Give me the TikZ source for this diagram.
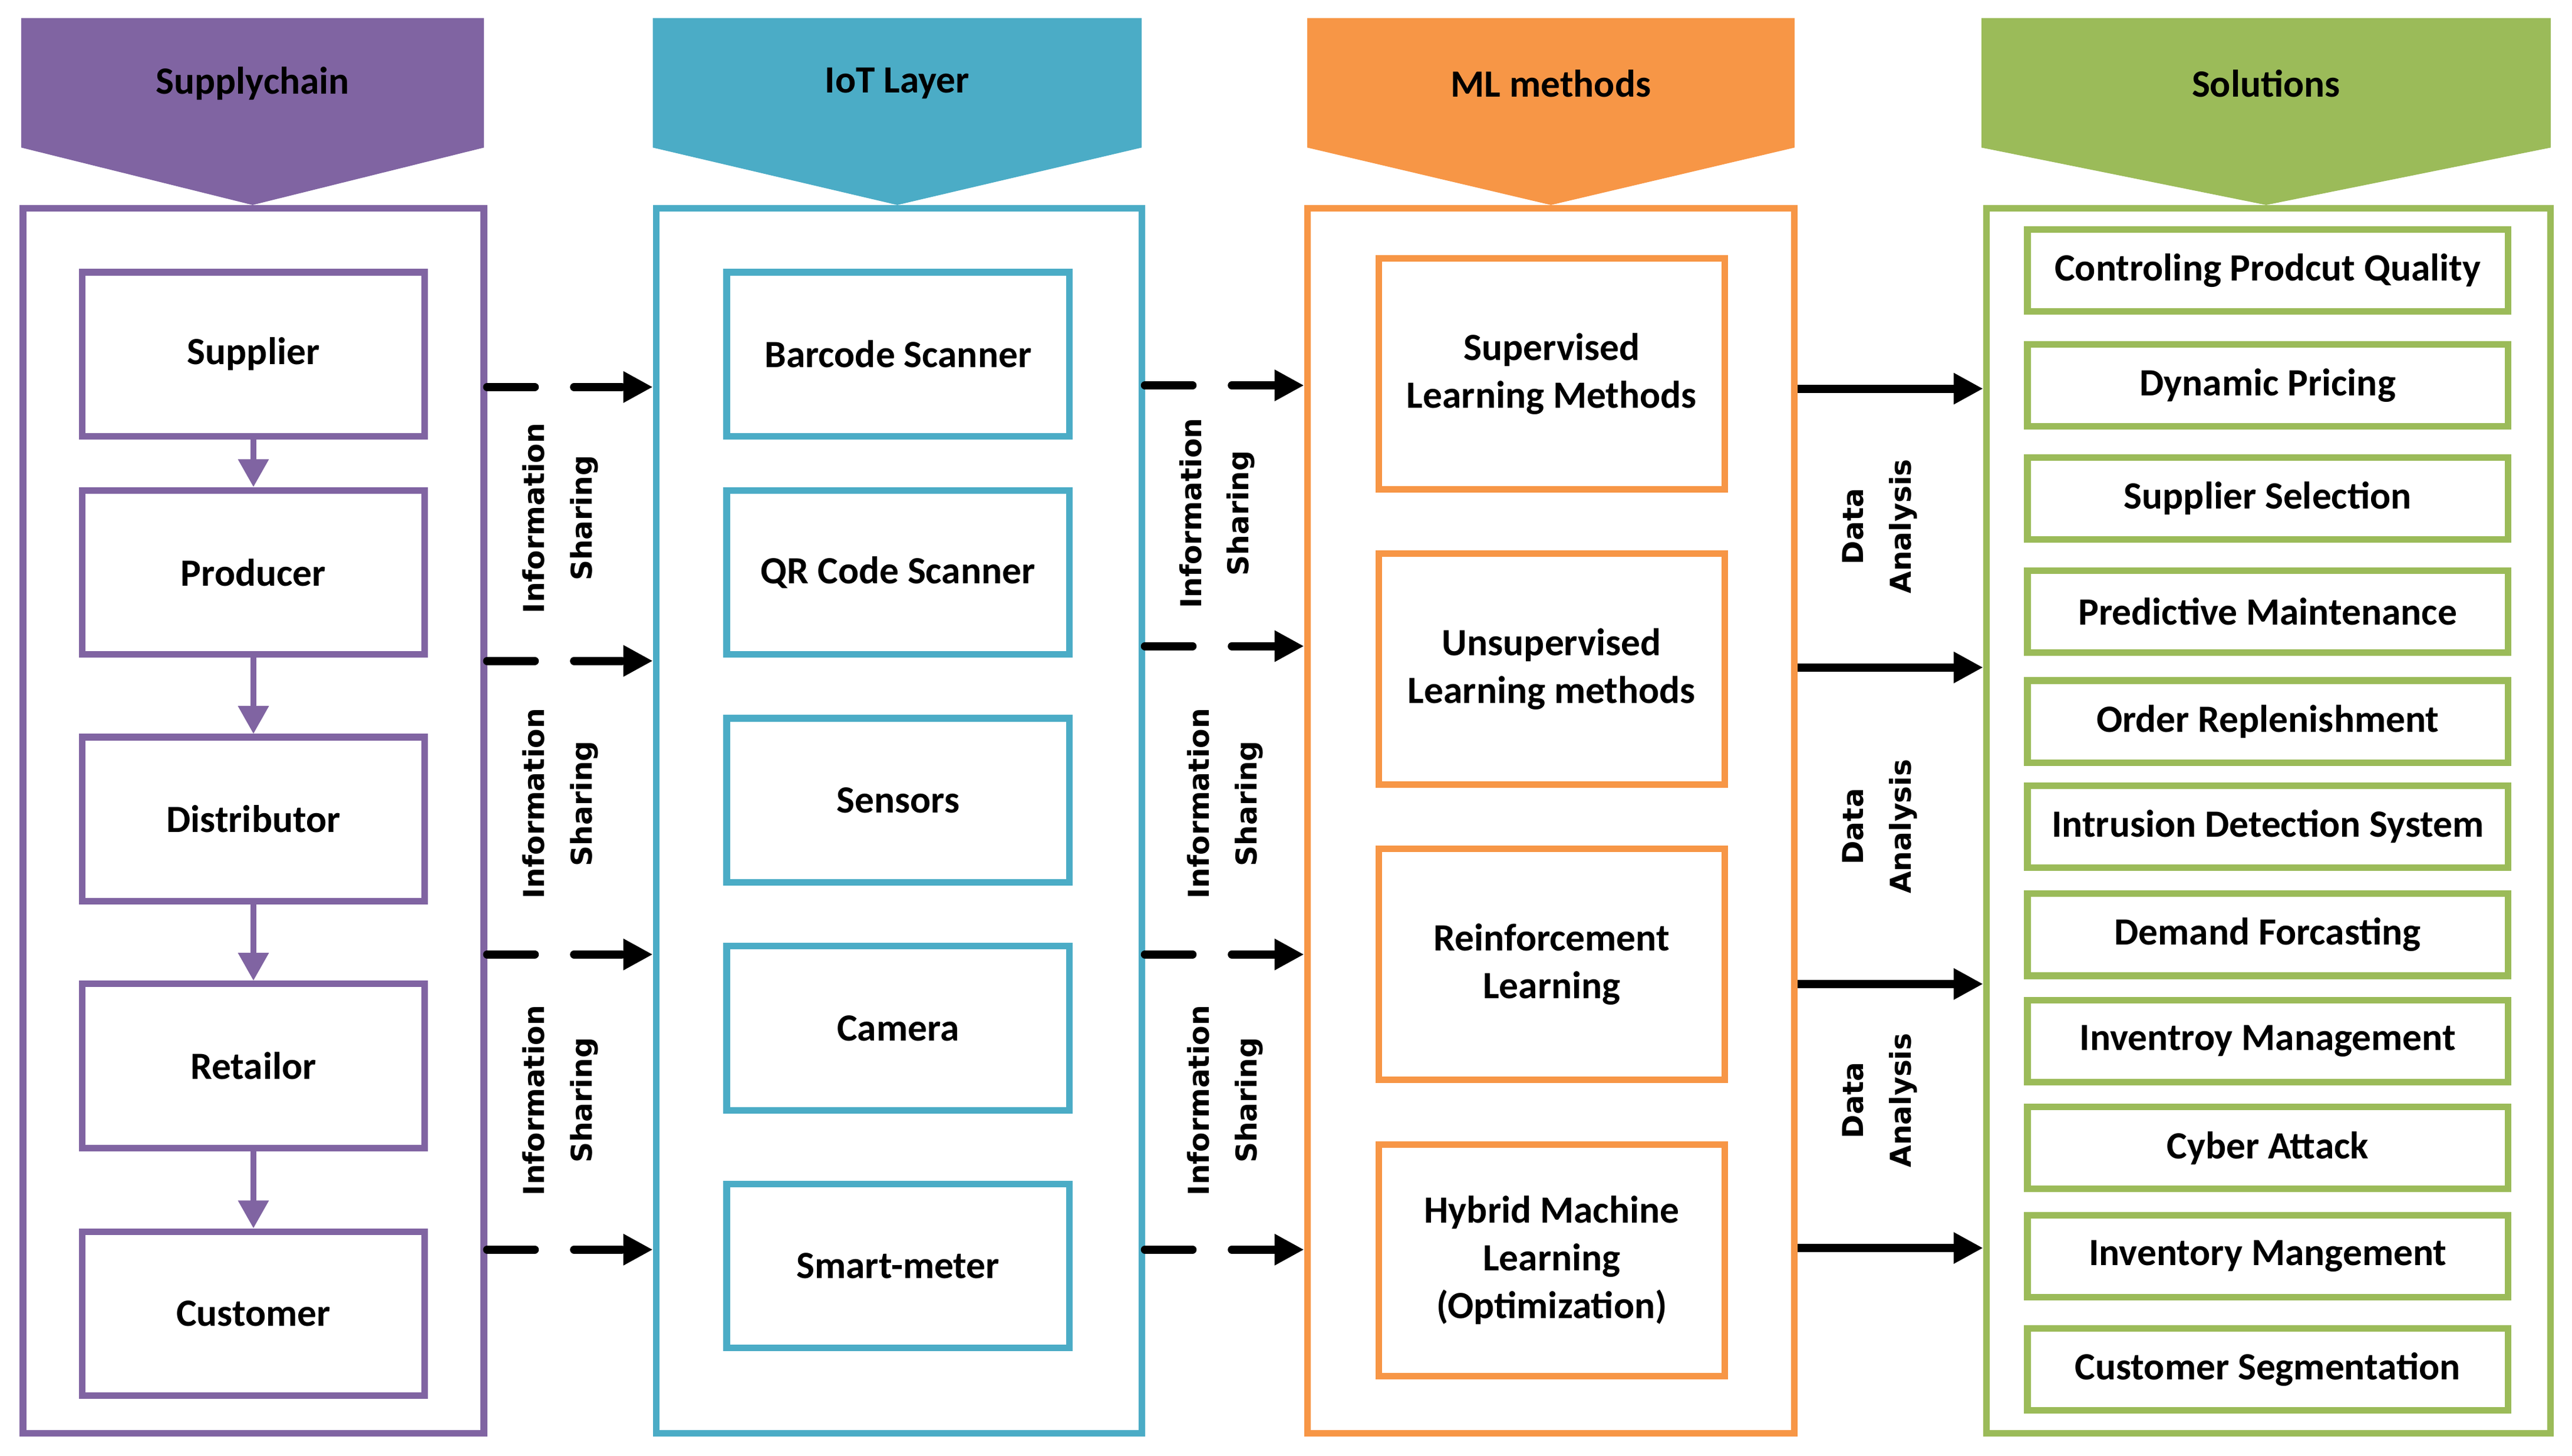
\documentclass[tikz,border=0pt]{standalone}
\usepackage{fontspec}
\setmainfont{Carlito}
\newfontfamily\sidefont{DejaVu Sans}
\usetikzlibrary{arrows.meta}
\definecolor{scpurple}{HTML}{8064A2}
\definecolor{iotblue}{HTML}{4BACC6}
\definecolor{mlorange}{HTML}{F79646}
\definecolor{solgreen}{HTML}{9BBB59}
\tikzset{column/.style={draw,line width=4pt,minimum height=747pt},
         item/.style={draw,line width=4pt,inner sep=0pt,align=center,font=\fontsize{23.5}{29}\selectfont\bfseries},
         scitem/.style={item,draw=scpurple,minimum width=209pt,minimum height=100pt},
         iotitem/.style={item,draw=iotblue,minimum width=209pt,minimum height=100pt},
         mlitem/.style={item,draw=mlorange,minimum width=211pt,minimum height=141pt},
         solitem/.style={item,draw=solgreen,minimum width=293pt,minimum height=50pt},
         head/.style={font=\fontsize{23.5}{29}\selectfont\bfseries},
         side/.style={rotate=90,align=center,font=\sidefont\fontsize{17.5}{29}\selectfont\bfseries},
         share/.style={line width=5pt,line cap=round,dash pattern=on 29pt off 24pt,-{Triangle[length=18pt,width=18pt]}},
         analyse/.style={line width=5pt,-{Triangle[length=18pt,width=18pt]}},
         flow/.style={scpurple,line width=3.5pt,-{Triangle[length=17pt,width=18pt]}}}
\begin{document}
\begin{tikzpicture}[x=1pt,y=-1pt]
        \useasboundingbox(0,0)rectangle(1568,887.5);

        \fill[scpurple](13,11)--(295,11)--(295,90)--(154,125)--(13,90)--cycle;
        \fill[iotblue](398,11)--(696,11)--(696,90)--(547,125)--(398,90)--cycle;
        \fill[mlorange](797,11)--(1094,11)--(1094,90)--(945.5,125)--(797,90)--cycle;
        \fill[solgreen](1208,11)--(1555,11)--(1555,90)--(1381.5,125)--(1208,90)--cycle;
        \node[head](hsc)at(154,51){Supplychain};
        \node[head](hiot)at(547,51){IoT Layer};
        \node[head](hml)at(945.5,51){ML methods};
        \node[head](hsol)at(1381.5,51){Solutions};

        \node[column, draw=scpurple, minimum width=281pt](sc)at(154.5,500.5){};
        \node[column, draw=iotblue, minimum width=296pt](iot)at(548,500.5){};
        \node[column, draw=mlorange, minimum width=297pt](ml)at(945.5,500.5){};
        \node[column, draw=solgreen, minimum width=344pt](sol)at(1383,500.5){};

        \node[scitem](sup)at(154.5,216){Supplier};
        \node[scitem](pro)at(154.5,349){Producer};
        \node[scitem](dis)at(154.5,499.5){Distributor};
        \node[scitem](ret)at(154.5,650){Retailor};
        \node[scitem](cus)at(154.5,801){Customer};
        \draw[flow](sup)--(pro);
        \draw[flow](pro)--(dis);
        \draw[flow](dis)--(ret);
        \draw[flow](ret)--(cus);

        \node[iotitem](bar)at(547.5,216){Barcode Scanner};
        \node[iotitem](qr)at(547.5,349){QR Code Scanner};
        \node[iotitem](sen)at(547.5,488){Sensors};
        \node[iotitem](cam)at(547.5,627){Camera};
        \node[iotitem](met)at(547.5,772){Smart-meter};

        \node[mlitem](sl)at(946,228){Supervised\\Learning Methods};
        \node[mlitem](ul)at(946,408){Unsupervised\\Learning methods};
        \node[mlitem](rl)at(946,588){Reinforcement\\Learning};
        \node[mlitem](hl)at(946,768.5){Hybrid Machine\\Learning\\(Optimization)};

        \node[solitem](s1)at(1382.5,165){Controling Prodcut Quality};
        \node[solitem](s2)at(1382.5,235){Dynamic Pricing};
        \node[solitem](s3)at(1382.5,304){Supplier Selection};
        \node[solitem](s4)at(1382.5,373){Predictive Maintenance};
        \node[solitem](s5)at(1382.5,440){Order Replenishment};
        \node[solitem](s6)at(1382.5,504){Intrusion Detection System};
        \node[solitem](s7)at(1382.5,570){Demand Forcasting};
        \node[solitem](s8)at(1382.5,635){Inventroy Management};
        \node[solitem](s9)at(1382.5,700){Cyber Attack};
        \node[solitem](s10)at(1382.5,766){Inventory Mangement};
        \node[solitem](s11)at(1382.5,835){Customer Segmentation};

        \coordinate(a1)at(0,236);
        \coordinate(a2)at(0,403);
        \coordinate(a3)at(0,582);
        \coordinate(a4)at(0,762);
        \draw[share](sc.east|-a1)--(iot.west|-a1);
        \draw[share](sc.east|-a2)--(iot.west|-a2);
        \draw[share](sc.east|-a3)--(iot.west|-a3);
        \draw[share](sc.east|-a4)--(iot.west|-a4);
        \node[side](is1)at(341.5,316){Information\\Sharing};
        \node[side](is2)at(341.5,490){Information\\Sharing};
        \node[side](is3)at(341.5,671){Information\\Sharing};

        \coordinate(b1)at(0,235);
        \coordinate(b2)at(0,394);
        \coordinate(b3)at(0,582);
        \coordinate(b4)at(0,762);
        \draw[share](iot.east|-b1)--(ml.west|-b1);
        \draw[share](iot.east|-b2)--(ml.west|-b2);
        \draw[share](iot.east|-b3)--(ml.west|-b3);
        \draw[share](iot.east|-b4)--(ml.west|-b4);
        \node[side](is4)at(742,313){Information\\Sharing};
        \node[side](is5)at(747,490){Information\\Sharing};
        \node[side](is6)at(747,671){Information\\Sharing};

        \coordinate(c1)at(0,237);
        \coordinate(c2)at(0,407);
        \coordinate(c3)at(0,600);
        \coordinate(c4)at(0,761);
        \draw[analyse](ml.east|-c1)--(sol.west|-c1);
        \draw[analyse](ml.east|-c2)--(sol.west|-c2);
        \draw[analyse](ml.east|-c3)--(sol.west|-c3);
        \draw[analyse](ml.east|-c4)--(sol.west|-c4);
        \node[side](da1)at(1146,321){Data\\Analysis};
        \node[side](da2)at(1146,504){Data\\Analysis};
        \node[side](da3)at(1146,671){Data\\Analysis};
    \end{tikzpicture}
\end{document}
